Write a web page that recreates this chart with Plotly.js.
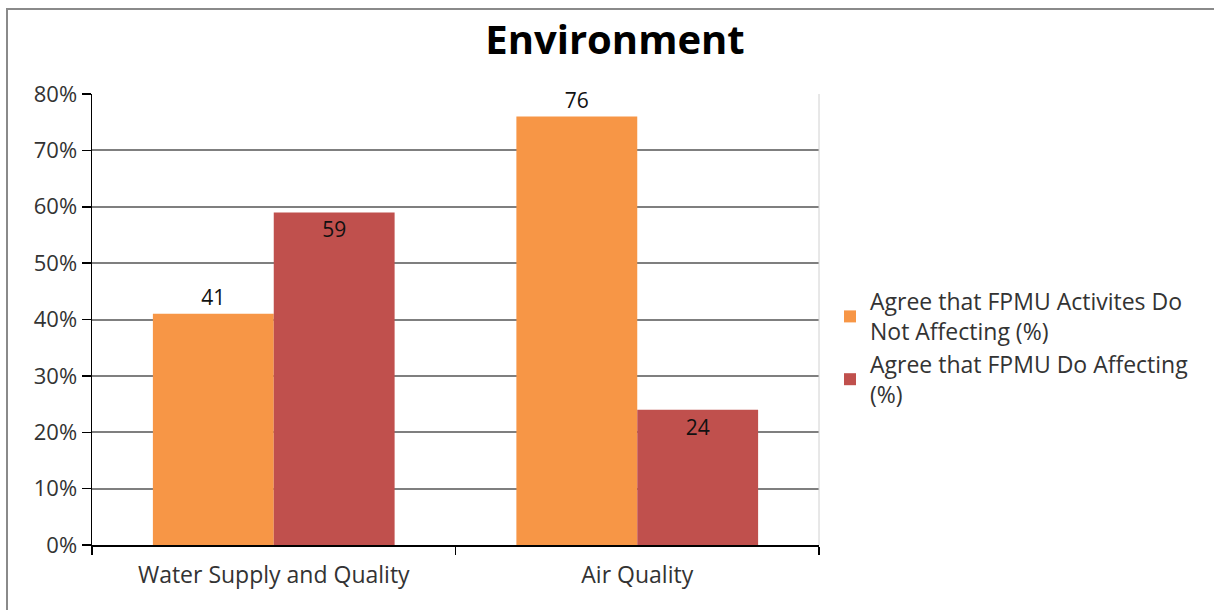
<!DOCTYPE html>
<html><head><meta charset="utf-8">
<script src="https://cdn.plot.ly/plotly-3.0.1.min.js"></script>
<style>html,body{margin:0;padding:0;background:#fff}#chart{width:1214px;height:610px}</style>
</head><body><div id="chart"></div>
<script>
var categories = ["Water Supply and Quality", "Air Quality"];
var notAffecting = [41, 76];
var doAffecting = [59, 24];
var seriesNames = ["Agree that FPMU Activites Do<br>Not Affecting (%)", "Agree that FPMU Do Affecting<br>(%)"];
var yTicks = [0, 10, 20, 30, 40, 50, 60, 70, 80];
var yTickText = yTicks.map(function(v){return v + '%';});

var font = "Open Sans, Liberation Sans, sans-serif";
var L = 92, R = 819, T = 94, B = 545;
var pw = R - L, ph = B - T;
function px(x){return (x - L)/pw;}
function py(y){return (B - y)/ph;}

var traces = [
  {type:'bar', x:categories, y:notAffecting, name:seriesNames[0],
   marker:{color:'#F79646'}, text:notAffecting.map(String), textposition:'outside',
   textfont:{family:font, size:21, color:'#111'}, cliponaxis:false},
  {type:'bar', x:categories, y:doAffecting, name:seriesNames[1],
   marker:{color:'#C0504D'}, text:doAffecting.map(String), textposition:'inside', insidetextanchor:'end',
   textfont:{family:font, size:21, color:'#111'}, cliponaxis:false}
];

var layout = {
  width:1214, height:610,
  margin:{l:L, r:1214-R, t:T, b:610-B, pad:0},
  paper_bgcolor:'#fff', plot_bgcolor:'#fff',
  barmode:'group', bargap:0.335, bargroupgap:0,
  title:{text:'<b>Environment</b>', font:{family:font, size:40, color:'#000'},
         xref:'container', x:615/1214, xanchor:'center', yref:'container', y:1-40/610, yanchor:'middle'},
  xaxis:{type:'category', tickson:'boundaries', ticks:'outside', ticklen:8, tickcolor:'#000', tickwidth:1.5,
         showline:true, linecolor:'#000', linewidth:1.5, showgrid:false, ticklabelstandoff:9,
         tickfont:{family:font, size:23, color:'#333'}},
  yaxis:{range:[0,80], tickmode:'array', tickvals:yTicks, ticktext:yTickText, ticks:'outside', ticklen:9,
         tickcolor:'#000', tickwidth:1.5,
         showline:true, linecolor:'#000', linewidth:1.5, showgrid:true, gridcolor:'#7f7f7f', gridwidth:2,
         zeroline:false, tickfont:{family:font, size:22, color:'#333'}},
  legend:{x:px(830), xanchor:'left', y:py(280), yanchor:'top', font:{family:font, size:23, color:'#333'},
          tracegroupgap:0, bgcolor:'rgba(0,0,0,0)'},
  shapes:[
    {type:'line', xref:'paper', yref:'paper', x0:1, x1:1, y0:0, y1:1, line:{color:'#d0d0d0', width:1}},
    {type:'rect', xref:'paper', yref:'paper', x0:px(7), x1:px(1230), y0:py(640), y1:py(9), line:{color:'#8a8a8a', width:2}}
  ]
};
Plotly.newPlot('chart', traces, layout, {displayModeBar:false, staticPlot:true});
</script></body></html>
